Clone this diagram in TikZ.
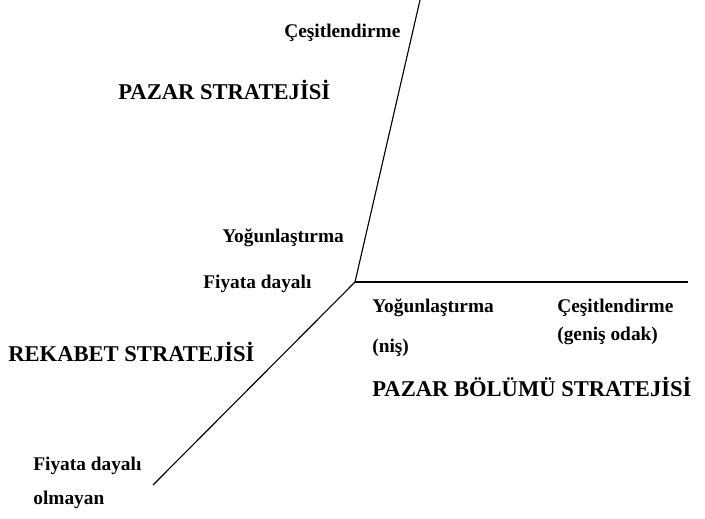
\documentclass[tikz,border=0pt]{standalone}
\usepackage{fontspec}
\setmainfont{Liberation Serif}[BoldFont={Liberation Serif Bold}]
\begin{document}
\begin{tikzpicture}[x=0.62pt,y=-0.62pt,
  axis/.style={draw=black,line width=0.7pt},
  small/.style={anchor=west,inner sep=0pt,font=\fontsize{12}{14}\selectfont\bfseries},
  big/.style={anchor=west,inner sep=0pt,font=\fontsize{14}{16}\selectfont\bfseries}]
\useasboundingbox (0,0) rectangle (705,518);
% axes meeting at the origin
\coordinate (o) at (355,282);
\coordinate (top) at (420,0);
\coordinate (right) at (688,282);
\coordinate (low) at (153,485);
\draw[axis] (o) -- (top);
\draw[axis] (o) -- (right);
\draw[axis] (o) -- (low);
% market strategy axis
\node[small] (mdiv) at (284,33) {Çeşitlendirme};
\node[big] (mstr) at (118,90) {PAZAR STRATEJİSİ};
\node[small] (mfoc) at (222,238) {Yoğunlaştırma};
% competitive strategy axis
\node[small] (cprice) at (203,284) {Fiyata dayalı};
\node[big] (cstr) at (8,352) {REKABET STRATEJİSİ};
\node[small] (cnon1) at (33,466) {Fiyata dayalı};
\node[small] (cnon2) at (33,500) {olmayan};
% segment strategy axis
\node[small] (sfoc1) at (372,308) {Yoğunlaştırma};
\node[small] (sfoc2) at (372,348) {(niş)};
\node[small] (sdiv1) at (557,308) {Çeşitlendirme};
\node[small] (sdiv2) at (557,336) {(geniş odak)};
\node[big] (sstr) at (372,387) {PAZAR BÖLÜMÜ STRATEJİSİ};
\end{tikzpicture}
\end{document}
